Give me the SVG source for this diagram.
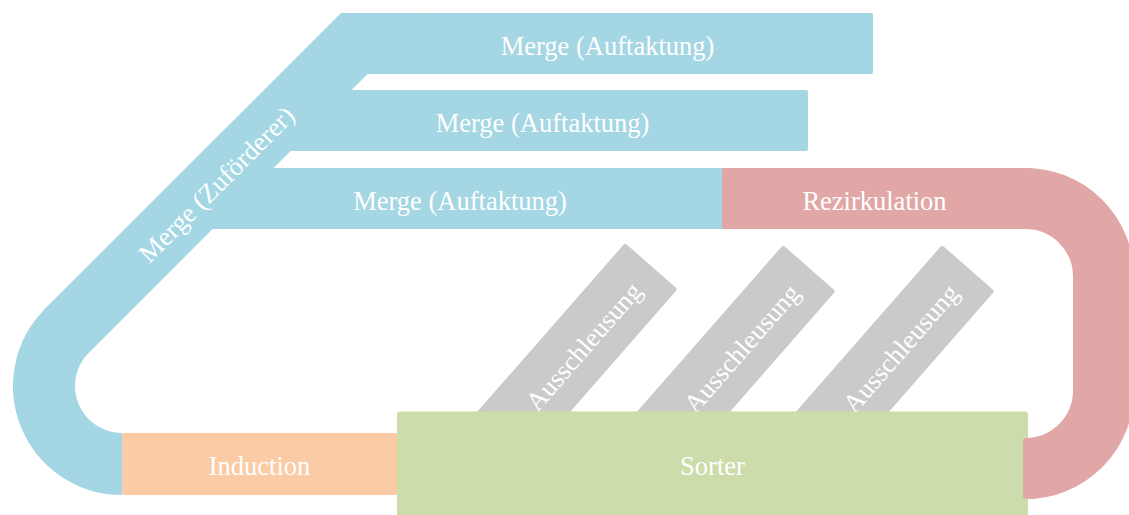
<svg xmlns="http://www.w3.org/2000/svg" width="1129" height="515" viewBox="0 0 1129 515">
  <style>
    .lbl { font-family: "Liberation Serif", "Times New Roman", serif; font-size: 26.5px; fill: #ffffff; text-anchor: middle; }
    .blue { fill: #A4D6E3; }
    .blue-band { fill: none; stroke: #A4D6E3; stroke-width: 62; }
    .pink { fill: #E1A7A6; }
    .pink-band { fill: none; stroke: #E1A7A6; stroke-width: 61; }
    .orange { fill: #FBCBA5; }
    .green { fill: #CCDCAB; }
    .gray { fill: #CACACA; }
  </style>

  <!-- upper merge lanes -->
  <g id="merge-auftaktung-1">
    <rect class="blue" x="342" y="13" width="531" height="61" rx="2"/>
    <text class="lbl" x="607.5" y="54.5">Merge (Auftaktung)</text>
  </g>
  <g id="merge-auftaktung-2">
    <rect class="blue" x="277" y="90" width="531" height="61" rx="2"/>
    <text class="lbl" x="542.5" y="131.5">Merge (Auftaktung)</text>
  </g>
  <g id="merge-auftaktung-3">
    <rect class="blue" x="195" y="168" width="536" height="61"/>
    <text class="lbl" x="460" y="209.5">Merge (Auftaktung)</text>
  </g>

  <!-- feeder: curve from induction up into the diagonal -->
  <g id="merge-zufoerderer">
    <path class="blue-band" d="M122 464 A78 78 0 0 1 66.85 330.85"/>
    <polygon class="blue" points="44.2,309.6 341,13 428.6,13 88.1,353.5"/>
    <text class="lbl" x="0" y="11" transform="translate(215 183) rotate(-45)">Merge (Zuförderer)</text>
  </g>

  <!-- diverts, partly hidden below the sorter -->
  <g id="ausschleusung-1">
    <rect class="gray" x="-250" y="0" width="250" height="70" rx="3" transform="translate(625 243) rotate(-48.8)"/>
    <text class="lbl" x="-105" y="46" transform="translate(625 243) rotate(-48.8)">Ausschleusung</text>
  </g>
  <g id="ausschleusung-2">
    <rect class="gray" x="-250" y="0" width="250" height="70" rx="3" transform="translate(783 245) rotate(-48.8)"/>
    <text class="lbl" x="-105" y="46" transform="translate(783 245) rotate(-48.8)">Ausschleusung</text>
  </g>
  <g id="ausschleusung-3">
    <rect class="gray" x="-250" y="0" width="250" height="70" rx="3" transform="translate(942 245) rotate(-48.8)"/>
    <text class="lbl" x="-105" y="46" transform="translate(942 245) rotate(-48.8)">Ausschleusung</text>
  </g>

  <g id="induction">
    <rect class="orange" x="122" y="433" width="280" height="62" rx="2"/>
    <text class="lbl" x="259.5" y="475">Induction</text>
  </g>

  <g id="sorter">
    <rect class="green" x="397" y="411.5" width="631" height="115" rx="3"/>
    <text class="lbl" x="712.5" y="475">Sorter</text>
  </g>

  <!-- recirculation loop back from the sorter end -->
  <g id="rezirkulation">
    <rect class="pink" x="722" y="168" width="310" height="61" rx="3"/>
    <path class="pink-band" d="M1025.5 198.5 A78 78 0 0 1 1103.5 276.5 V390.5 A78 78 0 0 1 1025.5 468.5"/>
    <rect class="pink" x="1023" y="438" width="12" height="61" rx="3"/>
    <text class="lbl" x="874.5" y="209.5">Rezirkulation</text>
  </g>

  <g id="connectors"/>
</svg>
